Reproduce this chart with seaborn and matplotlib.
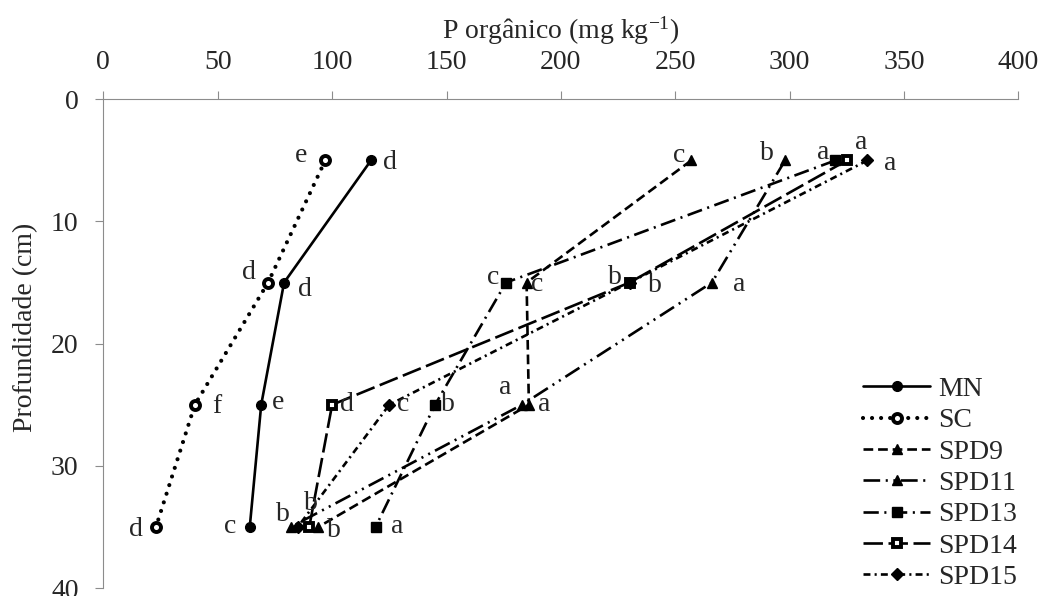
import matplotlib
import matplotlib.pyplot as plt
import pandas as pd
import seaborn as sns

matplotlib.use("Agg", force=True)

# profundidade (cm) e P orgânico (mg/kg) por tratamento
depth = [5, 15, 25, 35]
series_names = ["MN", "SC", "SPD9", "SPD11", "SPD13", "SPD14", "SPD15"]
p_mn = [117, 79, 69, 64]
p_sc = [97, 72, 40, 23]
p_spd9 = [257, 185, 186, 94]
p_spd11 = [298, 266, 183, 82]
p_spd13 = [320, 176, 145, 119]
p_spd14 = [325, 230, 100, 90]
p_spd15 = [334, 230, 125, 85]

# letras de comparação de médias
let_mn = ["d", "d", "e", "c"]
let_sc = ["e", "d", "f", "d"]
let_spd9 = ["c", "c", "a", "b"]
let_spd11 = ["b", "a", "a", "b"]
let_spd13 = ["a", "c", "b", "a"]
let_spd14 = ["a", "b", "d", "b"]
let_spd15 = ["a", "b", "c", ""]

values = [p_mn, p_sc, p_spd9, p_spd11, p_spd13, p_spd14, p_spd15]
letters = [let_mn, let_sc, let_spd9, let_spd11, let_spd13, let_spd14, let_spd15]

# estilo de cada série: (dashes em pt, marcador, tamanho, cor da face, borda, espessura da linha)
styles = {
    "MN": (None, "o", 7, "black", 1.0, 1.9),
    "SC": ((0.01, 6.5), "o", 6.5, "white", 2.8, 3.0),
    "SPD9": ((7, 3.5), "^", 7, "black", 1.0, 1.9),
    "SPD11": ((12, 4, 1.5, 4, 1.5, 4), "^", 7, "black", 1.0, 1.9),
    "SPD13": ((11, 4, 1.5, 4), "s", 7.5, "black", 1.0, 1.9),
    "SPD14": ((14, 4), "s", 5.8, "white", 2.8, 1.9),
    "SPD15": ((5, 3, 1.5, 3), "D", 6, "black", 1.0, 1.9),
}

# deslocamento dos rótulos (px), um por ponto
offsets = {
    "MN": [(19, -2), (21, -7), (17, 2), (-20, 0)],
    "SC": [(-24, 5), (-19, 10), (22, -2), (-20, -3)],
    "SPD9": [(-12, 5), (11, -2), (15, 0), (16, -4)],
    "SPD11": [(-18, 7), (27, -2), (-17, 17), (-8, 12)],
    "SPD13": [(-12, 8), (-13, 5), (13, 0), (22, 0)],
    "SPD14": [(14, 18), (-15, 5), (15, 0), (2, 23)],
    "SPD15": [(23, -3), (25, -3), (14, 0), (0, 0)],
}

sns.set_theme(style="white")
plt.rcParams["font.family"] = ["Liberation Serif", "DejaVu Serif"]
plt.rcParams["mathtext.fontset"] = "custom"
plt.rcParams["mathtext.rm"] = "Liberation Serif"
plt.rcParams["mathtext.it"] = "Liberation Serif:italic"
plt.rcParams["lines.scale_dashes"] = False

FS = 20
GRAY = "#8c8c8c"

fig = plt.figure(figsize=(10.45, 5.96), dpi=100)
ax = fig.add_axes([0.0989, 0.0134, 0.8757, 0.82])

for name, vals, lets in zip(series_names, values, letters):
    dash, mk, ms, face, mew, lw = styles[name]
    df = pd.DataFrame({"P": vals, "depth": depth})
    sns.lineplot(data=df, x="P", y="depth", sort=False, estimator=None, orient="y",
                 ax=ax, color="black", linewidth=lw, marker=mk, markersize=ms,
                 markerfacecolor=face, markeredgecolor="black", markeredgewidth=mew,
                 label=name)
    line = ax.lines[-1]
    if dash is not None:
        line.set_dashes(dash)
        line.set_dash_capstyle("round" if name == "SC" else "butt")
    for x, y, t, (dx, dy) in zip(vals, depth, lets, offsets[name]):
        if t:
            ax.annotate(t, (x, y), xytext=(dx * 0.72, dy * 0.72), textcoords="offset points",
                        ha="center", va="center", fontsize=FS)

ax.set_xlim(0, 400)
ax.set_ylim(40, 0)
ax.set_xticks(range(0, 401, 50))
ax.set_yticks(range(0, 41, 10))
ax.xaxis.tick_top()
ax.xaxis.set_label_position("top")
ax.set_xlabel("P orgânico (mg kg$^{-1}$)", fontsize=FS, labelpad=8)
ax.set_ylabel("Profundidade (cm)", fontsize=FS)
ax.yaxis.set_label_coords(-0.085, 0.534)
ax.yaxis.label.set_va("center")
ax.tick_params(axis="both", labelsize=FS, color=GRAY, length=5.8, width=0.8,
               direction="out", pad=12)
ax.tick_params(axis="x", top=True, bottom=False)
ax.tick_params(axis="y", left=True)
for side in ["right", "bottom"]:
    ax.spines[side].set_visible(False)
for side in ["left", "top"]:
    ax.spines[side].set_color(GRAY)
    ax.spines[side].set_linewidth(0.8)

leg = ax.legend(loc="upper left", bbox_to_anchor=(0.826, 0.368), bbox_transform=fig.transFigure,
                frameon=False, fontsize=FS, handlelength=2.4, handletextpad=0.3,
                labelspacing=0.21, borderpad=0, borderaxespad=0, numpoints=1)

fig.savefig("out.png", dpi=100)
